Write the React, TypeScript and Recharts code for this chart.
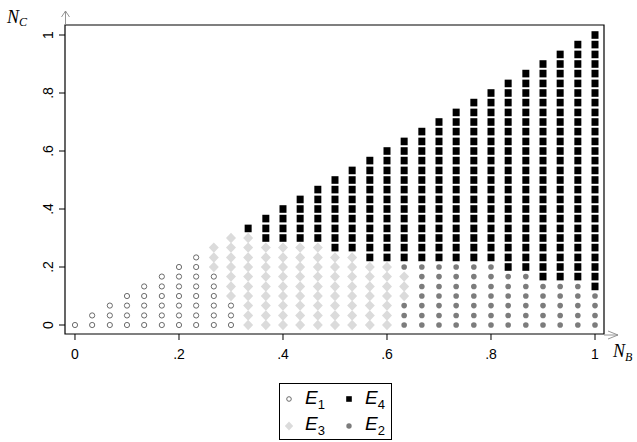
import { ReferenceArea, Scatter, ScatterChart, XAxis, YAxis } from "recharts";

// grid values of N_B (columns) and N_C (rows), step 1/30
const GRID = [
  0, 0.033, 0.067, 0.1, 0.133, 0.167, 0.2, 0.233, 0.267, 0.3, 0.333, 0.367,
  0.4, 0.433, 0.467, 0.5, 0.533, 0.567, 0.6, 0.633, 0.667, 0.7, 0.733, 0.767,
  0.8, 0.833, 0.867, 0.9, 0.933, 0.967, 1,
];

// equilibrium region of each column, bottom up: "<region>x<count>"
const COLUMN_RUNS = [
  "1x1",
  "1x2",
  "1x3",
  "1x4",
  "1x5",
  "1x6",
  "1x7",
  "1x8",
  "1x6 3x3",
  "1x3 3x7",
  "3x10 4x1",
  "3x9 4x3",
  "3x9 4x4",
  "3x9 4x5",
  "3x9 4x6",
  "3x8 4x8",
  "3x8 4x9",
  "3x7 4x11",
  "3x7 4x12",
  "2x3 3x3 2x1 4x13",
  "2x7 4x14",
  "2x7 4x15",
  "2x7 4x16",
  "2x7 4x17",
  "2x7 4x18",
  "2x6 4x20",
  "2x6 4x21",
  "2x5 4x23",
  "2x5 4x24",
  "2x5 4x25",
  "2x4 4x27",
];

const X_TICKS = [0, 0.2, 0.4, 0.6, 0.8, 1];
const Y_TICKS = [0, 0.2, 0.4, 0.6, 0.8, 1];

type Pt = { x: number; y: number };

function buildRegions() {
  const out: Record<string, Pt[]> = { "1": [], "2": [], "3": [], "4": [] };
  COLUMN_RUNS.forEach((runs, col) => {
    let row = 0;
    runs.split(" ").forEach((run) => {
      const [code, count] = run.split("x");
      for (let k = 0; k < Number(count); k++) {
        out[code].push({ x: GRID[col], y: GRID[row] });
        row++;
      }
    });
  });
  return out;
}

const regions = buildRegions();

const X_DOMAIN: [number, number] = [-0.0192, 1.0173];
const Y_DOMAIN: [number, number] = [-0.031, 1.0345];

const fmt = (v: number) => (v === 0 ? "0" : v === 1 ? "1" : String(v).replace("0.", "."));
const TICK_FONT = "'Liberation Sans', Arial, sans-serif";
const MATH_FONT = "'Liberation Serif', 'Times New Roman', serif";

const HollowCircle = (p: any) => (
  <circle cx={p.cx} cy={p.cy} r={2.6} fill="#fff" stroke="#5a5a5a" strokeWidth={0.9} />
);
const GrayCircle = (p: any) => <circle cx={p.cx} cy={p.cy} r={2.8} fill="#7c7c7c" />;
const BlackSquare = (p: any) => (
  <rect x={p.cx - 3.5} y={p.cy - 3.8} width={7} height={7.6} fill="#000" />
);
const Diamond = (p: any) => (
  <path
    d={`M${p.cx},${p.cy - 5.2}L${p.cx + 5},${p.cy}L${p.cx},${p.cy + 5.2}L${p.cx - 5},${p.cy}Z`}
    fill="#dbdbdb"
  />
);

function XTick({ x, y, payload }: any) {
  return (
    <text x={x} y={y + 17} textAnchor="middle" fontSize={14} fontFamily={TICK_FONT} fill="#000">
      {fmt(payload.value)}
    </text>
  );
}

function YTick({ x, y, payload }: any) {
  return (
    <g transform={`translate(${x - 4},${y}) rotate(-90)`}>
      <text x={0} y={0} textAnchor="middle" fontSize={14} fontFamily={TICK_FONT} fill="#000">
        {fmt(payload.value)}
      </text>
    </g>
  );
}

function LegendItem({ marker, sub }: { marker: React.ReactNode; sub: string }) {
  return (
    <div style={{ display: "flex", alignItems: "center", height: 26 }}>
      <svg width={14} height={14} style={{ marginRight: 9 }}>
        {marker}
      </svg>
      <span style={{ fontFamily: TICK_FONT, fontStyle: "italic", fontSize: 19, color: "#000" }}>
        E
        <sub style={{ fontStyle: "normal", fontSize: 13, verticalAlign: "-5px" }}>{sub}</sub>
      </span>
    </div>
  );
}

export default function App() {
  return (
    <div style={{ position: "absolute", left: 0, top: 0, width: 637, height: 442, background: "#fff" }}>
      <ScatterChart width={637} height={442} margin={{ top: 25, right: 33, bottom: 78, left: 0 }}>
        <XAxis
          type="number"
          dataKey="x"
          domain={X_DOMAIN}
          allowDataOverflow
          ticks={X_TICKS}
          tick={<XTick />}
          tickSize={6}
          tickLine={{ stroke: "#000" }}
          axisLine={false}
          height={30}
        />
        <YAxis
          type="number"
          dataKey="y"
          domain={Y_DOMAIN}
          allowDataOverflow
          ticks={Y_TICKS}
          tick={<YTick />}
          tickSize={6}
          tickLine={{ stroke: "#000" }}
          axisLine={false}
          width={65}
        />
        <ReferenceArea
          x1={X_DOMAIN[0]}
          x2={X_DOMAIN[1]}
          y1={Y_DOMAIN[0]}
          y2={Y_DOMAIN[1]}
          fill="none"
          fillOpacity={0}
          stroke="#000"
          strokeWidth={1.2}
        />
        <Scatter data={regions["1"]} shape={HollowCircle} isAnimationActive={false} />
        <Scatter data={regions["4"]} shape={BlackSquare} isAnimationActive={false} />
        <Scatter data={regions["3"]} shape={Diamond} isAnimationActive={false} />
        <Scatter data={regions["2"]} shape={GrayCircle} isAnimationActive={false} />
      </ScatterChart>

      <svg
        width={637}
        height={442}
        style={{ position: "absolute", left: 0, top: 0, pointerEvents: "none" }}
      >
        <g stroke="#8a8a8a" strokeWidth={0.9} fill="none">
          <path d="M65.5,25 L65.5,11 M61.5,17 L65.5,11 L69.5,17" />
          <path d="M604,335 L618,335 M608,331 L618,335 L608,339" />
        </g>
        <text x={7} y={23} fontFamily={MATH_FONT} fontStyle="italic" fontSize={18} fill="#000">
          N
          <tspan fontSize={12} dy={3}>
            C
          </tspan>
        </text>
        <text x={613} y={357} fontFamily={MATH_FONT} fontStyle="italic" fontSize={18} fill="#000">
          N
          <tspan fontSize={12} dy={4}>
            B
          </tspan>
        </text>
      </svg>

      <div
        style={{
          position: "absolute",
          left: 279,
          top: 383,
          width: 113,
          height: 57,
          boxSizing: "border-box",
          border: "1px solid #000",
          display: "grid",
          gridTemplateColumns: "60px 50px",
          paddingLeft: 2,
          paddingTop: 2,
          background: "#fff",
        }}
      >
        <LegendItem marker={<circle cx={7} cy={7} r={2.3} fill="#fff" stroke="#5a5a5a" strokeWidth={0.9} />} sub="1" />
        <LegendItem marker={<rect x={4.2} y={4.2} width={5.6} height={5.6} fill="#000" />} sub="4" />
        <LegendItem marker={<path d="M7,2.6L11.2,7L7,11.4L2.8,7Z" fill="#dbdbdb" />} sub="3" />
        <LegendItem marker={<circle cx={7} cy={7} r={2.7} fill="#7c7c7c" />} sub="2" />
      </div>
    </div>
  );
}
